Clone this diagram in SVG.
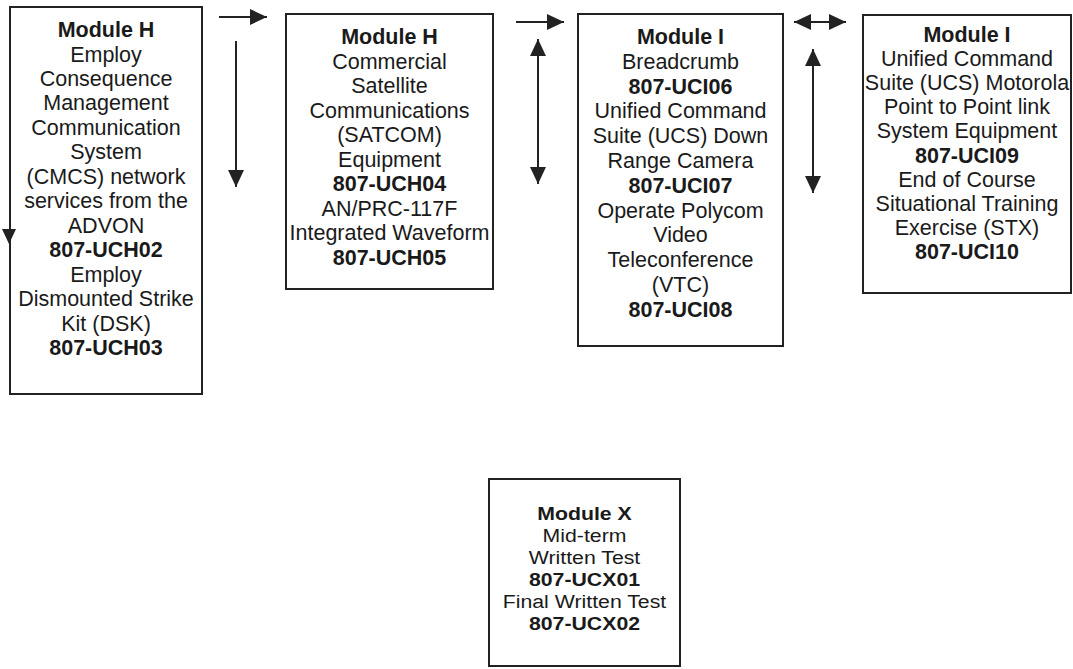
<svg xmlns="http://www.w3.org/2000/svg" width="1073" height="669" viewBox="0 0 1073 669">
<style>
.box{fill:#fff;stroke:#222;stroke-width:2}
text{font-family:"Liberation Sans",Arial,sans-serif;font-size:21.5px;fill:#1a1a1a;text-anchor:middle}
.b{font-weight:bold}
.s{font-size:19px}
.ln{stroke:#222;stroke-width:2;fill:none}
</style>
<defs>
<marker id="ahb" viewBox="0 0 17 16" refX="17" refY="8" markerWidth="17" markerHeight="16" markerUnits="userSpaceOnUse" orient="auto-start-reverse">
<path d="M0,0 L17,8 L0,16 Z" fill="#222"/>
</marker>
</defs>
<rect width="1073" height="669" fill="#fff"/>
<g id="node-h1">
<rect class="box" x="10" y="7" width="192" height="387"/>
<text class="b" x="106" y="37">Module H</text>
<text x="106" y="61.5">Employ</text>
<text x="106" y="86">Consequence</text>
<text x="106" y="110.4">Management</text>
<text x="106" y="134.8">Communication</text>
<text x="106" y="159.3">System</text>
<text x="106" y="183.8">(CMCS) network</text>
<text x="106" y="208.2">services from the</text>
<text x="106" y="232.7">ADVON</text>
<text class="b" x="106" y="257.1">807-UCH02</text>
<text x="106" y="281.6">Employ</text>
<text x="106" y="306">Dismounted Strike</text>
<text x="106" y="330.5">Kit (DSK)</text>
<text class="b" x="106" y="355">807-UCH03</text>
</g>
<g id="node-h2">
<rect class="box" x="286" y="14" width="207" height="275"/>
<text class="b" x="389.5" y="44">Module H</text>
<text x="389.5" y="68.5">Commercial</text>
<text x="389.5" y="93">Satellite</text>
<text x="389.5" y="117.6">Communications</text>
<text x="389.5" y="142.2">(SATCOM)</text>
<text x="389.5" y="166.7">Equipment</text>
<text class="b" x="389.5" y="191.3">807-UCH04</text>
<text x="389.5" y="215.8">AN/PRC-117F</text>
<text x="389.5" y="240.4">Integrated Waveform</text>
<text class="b" x="389.5" y="265">807-UCH05</text>
</g>
<g id="node-i1">
<rect class="box" x="578" y="14" width="205" height="332"/>
<text class="b" x="680.5" y="44">Module I</text>
<text x="680.5" y="68.8">Breadcrumb</text>
<text class="b" x="680.5" y="93.6">807-UCI06</text>
<text x="680.5" y="118.4">Unified Command</text>
<text x="680.5" y="143.2">Suite (UCS) Down</text>
<text x="680.5" y="168">Range Camera</text>
<text class="b" x="680.5" y="192.8">807-UCI07</text>
<text x="680.5" y="217.6">Operate Polycom</text>
<text x="680.5" y="242.4">Video</text>
<text x="680.5" y="267.2">Teleconference</text>
<text x="680.5" y="292">(VTC)</text>
<text class="b" x="680.5" y="316.8">807-UCI08</text>
</g>
<g id="node-i2">
<rect class="box" x="863" y="15" width="208" height="278"/>
<text class="b" x="967" y="42">Module I</text>
<text x="967" y="66">Unified Command</text>
<text x="967" y="90">Suite (UCS) Motorola</text>
<text x="967" y="114.3">Point to Point link</text>
<text x="967" y="138.4">System Equipment</text>
<text class="b" x="967" y="162.5">807-UCI09</text>
<text x="967" y="186.6">End of Course</text>
<text x="967" y="210.7">Situational Training</text>
<text x="967" y="234.8">Exercise (STX)</text>
<text class="b" x="967" y="259">807-UCI10</text>
</g>
<g id="node-x">
<rect class="box" x="489" y="479" width="191" height="187"/>
<g transform="translate(584.5,0) scale(1.12,1)">
<text class="b s" x="0" y="520">Module X</text>
<text class="s" x="0" y="542">Mid-term</text>
<text class="s" x="0" y="564">Written Test</text>
<text class="b s" x="0" y="586">807-UCX01</text>
<text class="s" x="0" y="608">Final Written Test</text>
<text class="b s" x="0" y="630">807-UCX02</text>
</g>
</g>
<g id="connectors">
<line class="ln" x1="219" y1="17" x2="267" y2="17" marker-end="url(#ahb)"/>
<line class="ln" x1="236" y1="41" x2="236" y2="187" marker-end="url(#ahb)"/>
<line class="ln" x1="516" y1="22" x2="564" y2="22" marker-end="url(#ahb)"/>
<line class="ln" x1="538" y1="39" x2="538" y2="184" marker-start="url(#ahb)" marker-end="url(#ahb)"/>
<line class="ln" x1="794" y1="22" x2="846" y2="22" marker-start="url(#ahb)" marker-end="url(#ahb)"/>
<line class="ln" x1="813" y1="49" x2="813" y2="193" marker-start="url(#ahb)" marker-end="url(#ahb)"/>
<path d="M2,229 L16,229 L9,244 Z" fill="#222"/>
</g>
</svg>
